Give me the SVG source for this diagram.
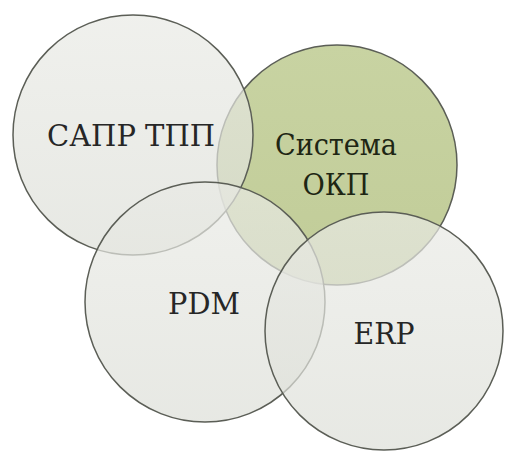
<svg xmlns="http://www.w3.org/2000/svg" width="505" height="451" viewBox="0 0 505 451">
<defs>
<linearGradient id="gGray" x1="0" y1="0" x2="0" y2="1">
<stop offset="0" stop-color="#e9eae5"/>
<stop offset="1" stop-color="#dddfd8"/>
</linearGradient>
<linearGradient id="gGreen" x1="0" y1="0" x2="0" y2="1">
<stop offset="0" stop-color="#c8d3a2"/>
<stop offset="1" stop-color="#c1cc98"/>
</linearGradient>
</defs>
<style>
.c{stroke:#5b5e56;stroke-width:1.5}
.gray{fill:url(#gGray);fill-opacity:0.7}
.green{fill:url(#gGreen)}
.t{font-family:"DejaVu Serif","Liberation Serif",serif;font-size:30px;text-anchor:middle;fill:#262626}
.tg{fill:#1e2614}
</style>
<rect width="505" height="451" fill="#ffffff"/>
<g id="node-okp">
<circle class="c green" cx="337" cy="165" r="120"/>
<text class="t tg" x="336" y="155" textLength="122" lengthAdjust="spacingAndGlyphs">Система</text>
<text class="t tg" x="336" y="195" textLength="67" lengthAdjust="spacingAndGlyphs">ОКП</text>
</g>
<g id="node-sapr">
<circle class="c gray" cx="133" cy="135" r="120"/>
<text class="t" x="131" y="146" textLength="168" lengthAdjust="spacingAndGlyphs">САПР ТПП</text>
</g>
<g id="node-pdm">
<circle class="c gray" cx="205" cy="302" r="120"/>
<text class="t" x="204" y="314" textLength="72" lengthAdjust="spacingAndGlyphs">PDM</text>
</g>
<g id="node-erp">
<circle class="c gray" cx="384" cy="331" r="119"/>
<text class="t" x="384" y="344" textLength="61" lengthAdjust="spacingAndGlyphs">ERP</text>
</g>
<g id="connectors"></g>
</svg>
